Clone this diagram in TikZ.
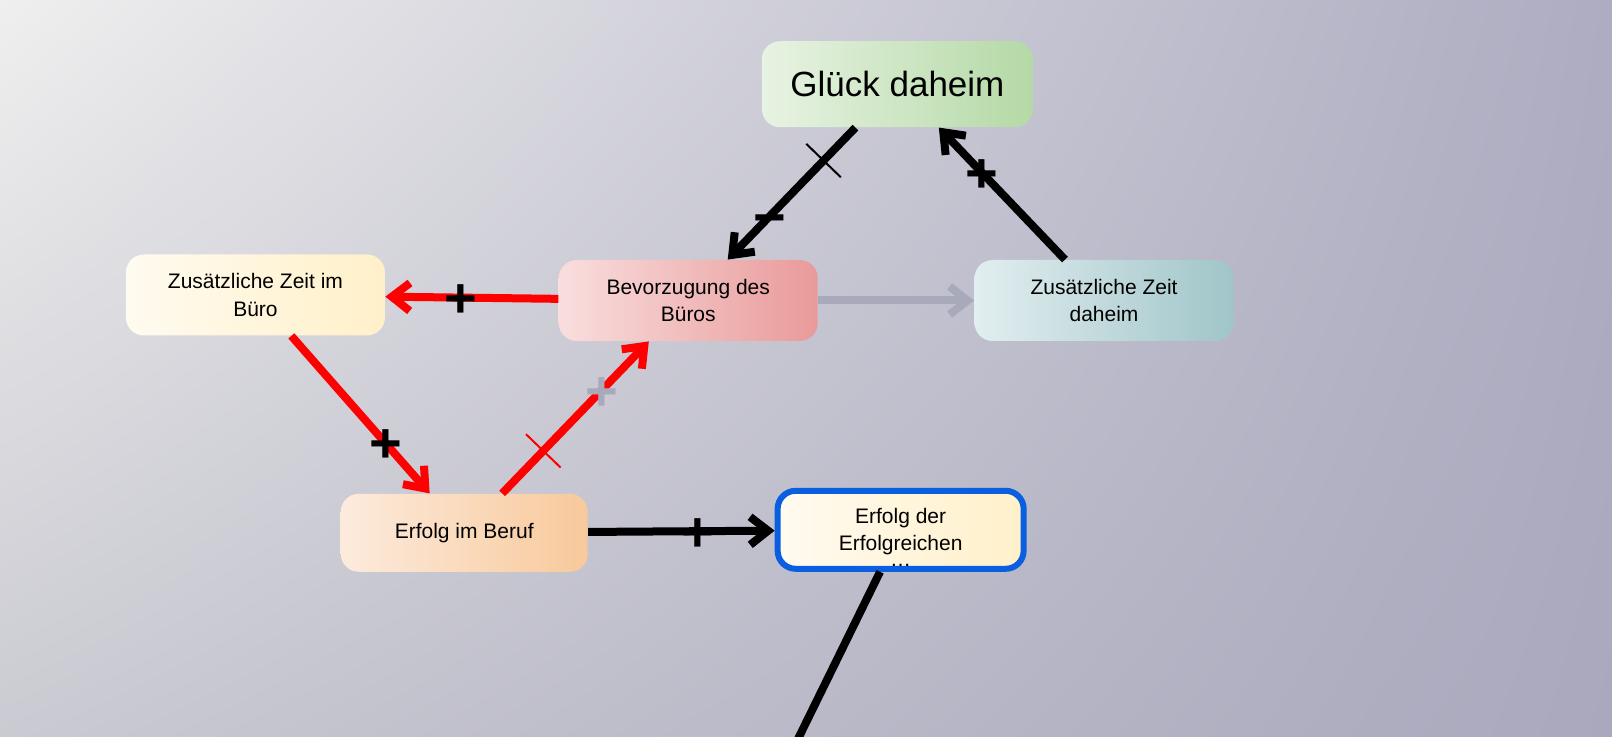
\documentclass[tikz,border=0pt]{standalone}
\usepackage{fontspec}
\setmainfont{Liberation Sans}
\usetikzlibrary{arrows.meta,positioning,shadings,decorations.markings}

\definecolor{bgul}{HTML}{EFEFEF}
\definecolor{bgur}{HTML}{ADACC1}
\definecolor{bgll}{HTML}{CACAD2}
\definecolor{bglr}{HTML}{A9A8BD}
\definecolor{linkgray}{HTML}{A9A9BC}
\definecolor{frameblue}{HTML}{0A5FE0}
\definecolor{glL}{HTML}{E8F3E3}
\definecolor{glR}{HTML}{B4D9A6}
\definecolor{yeL}{HTML}{FFFBF0}
\definecolor{yeR}{HTML}{FFF0C9}
\definecolor{beL}{HTML}{F9DEDE}
\definecolor{beR}{HTML}{E99A9A}
\definecolor{zdL}{HTML}{E2EEF0}
\definecolor{zdR}{HTML}{A0C5C8}
\definecolor{ebL}{HTML}{FCEBDD}
\definecolor{ebR}{HTML}{F8C99B}

\begin{document}
\begin{tikzpicture}[node distance=80pt,every node/.style={rounded corners=9pt,minimum width=129.5pt,minimum height=40.5pt,align=center,font=\fontsize{10.5}{13.5}\selectfont},
    sign/.style={rounded corners=0pt,minimum width=0pt,minimum height=0pt,inner sep=0pt,anchor=base,yshift=-10pt,text=black,font=\fontsize{28}{28}\selectfont\bfseries},
    link/.style={-{Straight Barb[length=9pt,width=14pt]},line width=4pt},
    delay/.style={postaction={decorate},decoration={markings,mark=at position #1 with {\draw[-,line width=1pt] (0pt,-12pt)--(0pt,12pt);}}}]
      \shade[upper left=bgul,upper right=bgur,lower left=bgll,lower right=bglr] (-344.125pt,-218.25pt) rectangle (461.875pt,150.25pt);
      \useasboundingbox (-344.125pt,-218.25pt) rectangle (461.875pt,150.25pt);
      \node[shade,left color=beL,right color=beR] (bev) {Bevorzugung des\\Büros};
      \node[shade,left color=zdL,right color=zdR,right=78pt of bev] (zd) {Zusätzliche Zeit\\daheim};
      \node[shade,left color=yeL,right color=yeR,left=86.5pt of bev,yshift=2.75pt] (zb) {Zusätzliche Zeit im\\Büro};
      \node[shade,left color=glL,right color=glR,above=66pt of bev,xshift=104.6pt,minimum width=135.5pt,minimum height=43pt,font=\fontsize{17.5}{21}\selectfont] (gl) {Glück daheim};
      \node[shade,left color=ebL,right color=ebR,below=76pt of bev,xshift=-112pt,minimum width=123.5pt,minimum height=39pt] (eb) {Erfolg im Beruf};
      \node[shade,left color=yeL,right color=yeR,draw=frameblue,line width=3pt,right=93.25pt of eb,yshift=1.5pt,minimum width=123pt,minimum height=39pt] (ee) {Erfolg der\\\ooalign{Erfolgreichen\cr\hidewidth\raisebox{-8pt}[0pt][0pt]{\dots}\hidewidth\cr}};
      \coordinate[below=108pt of ee.center,xshift=-53pt] (tail);
      \draw[link,delay=0.25] (gl) -- node[sign,pos=0.67] {−} (bev);
      \draw[link] (zd) -- node[sign,pos=0.66] {+} (gl);
      \draw[link,red] (bev) -- node[sign,pos=0.565] {+} (zb);
      \draw[link,linkgray] (bev) -- (zd);
      \draw[link,red] (zb) -- node[sign,pos=0.68] {+} (eb);
      \draw[link,red,delay=0.28] (eb) -- node[sign,pos=0.68,text=linkgray] {+} (bev);
      \draw[link] (eb) -- node[sign,pos=0.59] {+} (ee);
      \draw[line width=4pt] (ee) -- (tail);
    \end{tikzpicture}
\end{document}
